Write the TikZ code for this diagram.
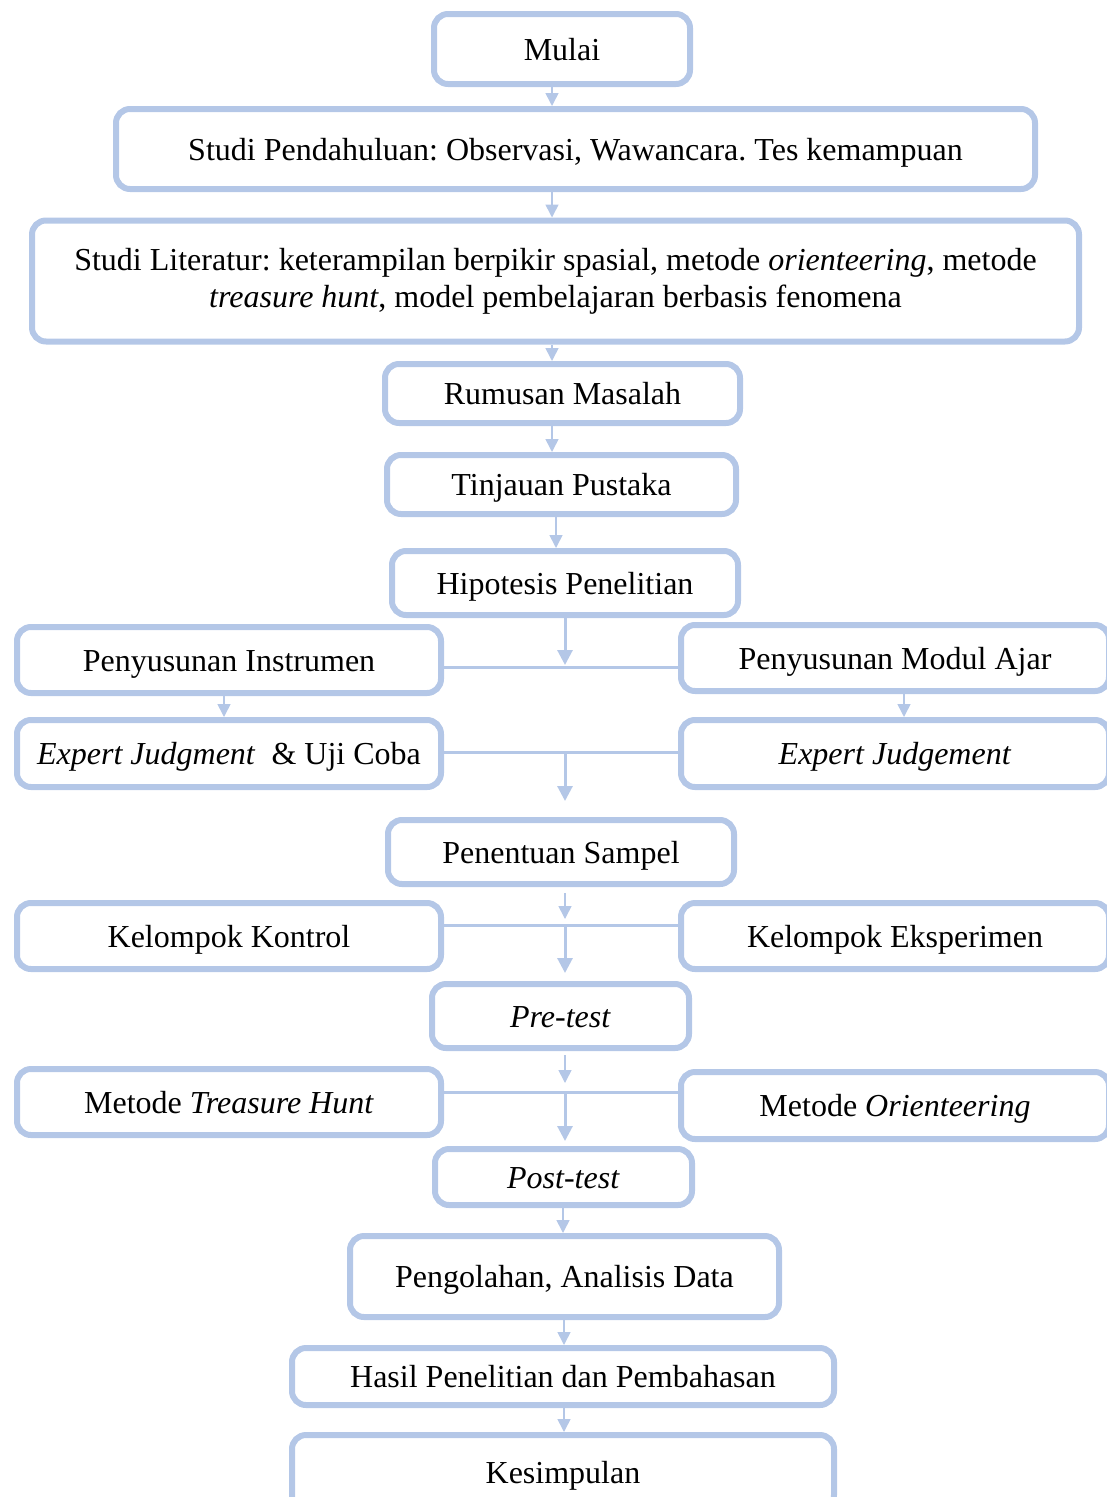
\documentclass[tikz,border=0pt]{standalone}
\usepackage{fontspec}
\setmainfont{Liberation Serif}
\usepackage{tikz}
\usetikzlibrary{arrows.meta}
\definecolor{boxblue}{HTML}{B4C7E7}
\frenchspacing

\begin{document}
\begin{tikzpicture}
  [x=1pt,y=-1pt,
   every node/.style={draw=boxblue,line width=6pt,rounded corners=14pt,inner sep=0pt,align=center,font=\fontsize{32}{37}\selectfont},
   oneline/.style={text height=25pt,text depth=3pt},
   arr/.style={draw=boxblue,line width=1.6pt,-{Triangle[width=13pt,length=13pt]}},
   bigarr/.style={draw=boxblue,line width=3pt,-{Triangle[width=15pt,length=15pt]}},
   link/.style={draw=boxblue,line width=3pt}]

  \useasboundingbox (0,0) rectangle (1107,1497);
  \clip (0,0) rectangle (1107,1497);

  \node[oneline,minimum width=256pt,minimum height=70pt] (mulai) at (562,49) {Mulai};
  \node[oneline,minimum width=919pt,minimum height=80pt] (pend) at (575.5,149) {Studi Pendahuluan: Observasi, Wawancara. Tes kemampuan};
  \node[minimum width=1047pt,minimum height=121pt] (lit) at (555.5,281) {Studi Literatur: keterampilan berpikir spasial, metode \textit{orienteering}, metode\\\textit{treasure hunt}, model pembelajaran berbasis fenomena};
  \node[oneline,minimum width=355pt,minimum height=59pt] (rumusan) at (562.5,393.5) {Rumusan Masalah};
  \node[oneline,minimum width=349pt,minimum height=59pt] (tinjauan) at (561.5,484.5) {Tinjauan Pustaka};
  \node[oneline,minimum width=346pt,minimum height=64pt] (hipotesis) at (565,583) {Hipotesis Penelitian};
  \node[oneline,minimum width=424pt,minimum height=66pt] (instrumen) at (229,660) {Penyusunan Instrumen};
  \node[oneline,minimum width=428pt,minimum height=66pt] (modul) at (895,658) {Penyusunan Modul Ajar};
  \node[oneline,minimum width=424pt,minimum height=67pt] (expertL) at (229,753.5) {\textit{Expert Judgment}\ \ \& Uji Coba};
  \node[oneline,minimum width=428pt,minimum height=67pt] (expertR) at (895,753.5) {\textit{Expert Judgement}};
  \node[oneline,minimum width=346pt,minimum height=64pt] (sampel) at (561,852) {Penentuan Sampel};
  \node[oneline,minimum width=424pt,minimum height=66pt] (kontrol) at (229,936) {Kelompok Kontrol};
  \node[oneline,minimum width=428pt,minimum height=66pt] (eksperimen) at (895,936) {Kelompok Eksperimen};
  \node[oneline,minimum width=257pt,minimum height=64pt] (pretest) at (560.5,1016) {\textit{Pre-test}};
  \node[oneline,minimum width=424pt,minimum height=66pt] (treasure) at (229,1102) {Metode \textit{Treasure Hunt}};
  \node[oneline,minimum width=428pt,minimum height=67pt] (orient) at (895,1105.5) {Metode \textit{Orienteering}};
  \node[oneline,minimum width=257pt,minimum height=56pt] (posttest) at (563.5,1177) {\textit{Post-test}};
  \node[oneline,minimum width=429pt,minimum height=81pt] (olah) at (564.5,1276.5) {Pengolahan, Analisis Data};
  \node[oneline,minimum width=542pt,minimum height=57pt] (hasil) at (563,1376.5) {Hasil Penelitian dan Pembahasan};
  \node[oneline,minimum width=542pt,minimum height=74pt] (simpul) at (563,1472) {Kesimpulan};

  % junctions
  \coordinate (j1) at (565,667);
  \coordinate (j2) at (565,752);
  \coordinate (e2) at (565,801);
  \coordinate (j3) at (565,925);
  \coordinate (j4) at (565,1092);

  \foreach \from/\to/\x in {mulai/pend/552,pend/lit/552,lit/rumusan/552,rumusan/tinjauan/552,tinjauan/hipotesis/556,instrumen/expertL/224,modul/expertR/904,posttest/olah/563,olah/hasil/564,hasil/simpul/564}
  {
    \coordinate (c) at (\x,0);
    \draw[arr] (\from.south -| c) -- (\to.north -| c);
  }

  \draw[bigarr] (hipotesis.south -| j1) -- ([yshift=2pt]j1);
  \draw[link] (instrumen.east |- j1) -- (modul.west |- j1);
  \draw[link] (expertL.east |- j2) -- (expertR.west |- j2);
  \draw[bigarr] (j2) -- (e2);
  \draw[arr] ([yshift=-6pt]sampel.south -| j3) -- ([yshift=6pt]j3);
  \draw[link] (kontrol.east |- j3) -- (eksperimen.west |- j3);
  \draw[bigarr,shorten >=8pt] (j3) -- (pretest.north -| j3);
  \draw[arr] ([yshift=-4pt]pretest.south -| j4) -- ([yshift=9pt]j4);
  \draw[link] (treasure.east |- j4) -- (orient.west |- j4);
  \draw[bigarr,shorten >=5pt] (j4) -- (posttest.north -| j4);
\end{tikzpicture}
\end{document}
